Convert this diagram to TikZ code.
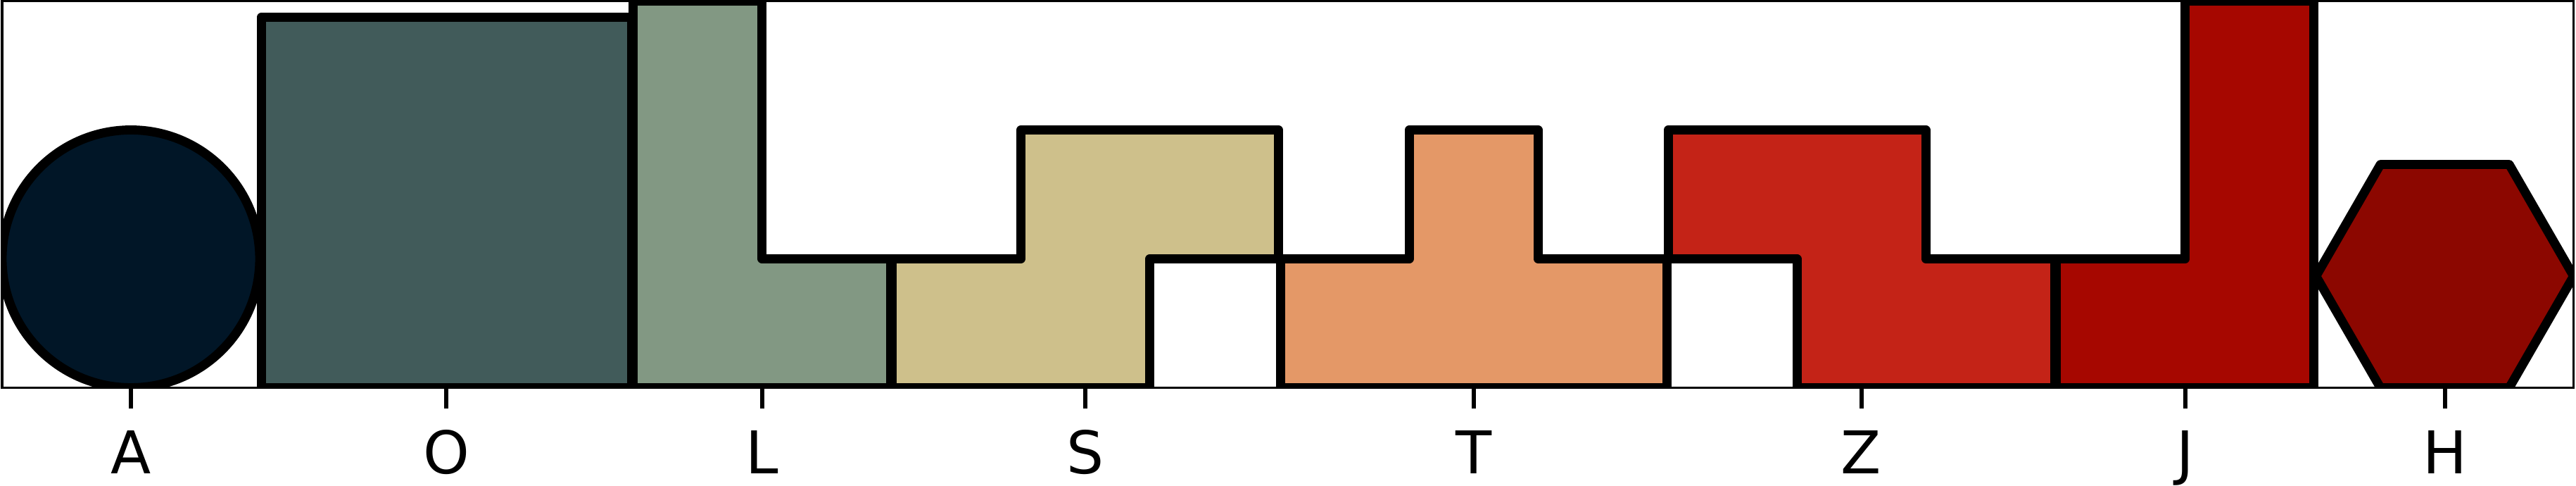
\documentclass[tikz,border=0pt]{standalone}
\usepackage{fontspec}
\setmainfont{DejaVu Sans}
\definecolor{cA}{RGB}{1,22,39}
\definecolor{cO}{RGB}{65,91,90}
\definecolor{cL}{RGB}{130,152,131}
\definecolor{cS}{RGB}{206,192,139}
\definecolor{cT}{RGB}{228,152,103}
\definecolor{cZ}{RGB}{196,35,23}
\definecolor{cJ}{RGB}{166,7,0}
\definecolor{cH}{RGB}{140,7,0}
\begin{document}
\begin{tikzpicture}[x=1cm,y=1cm,
  piece/.style={draw=black, line width=2pt, line join=round},
  frameline/.style={draw=black, line width=0.55pt},
  tickline/.style={draw=black, line width=0.95pt},
  ticklabel/.style={anchor=base, inner sep=0pt, font=\fontsize{13}{15}\selectfont}]
\useasboundingbox (-0.0164,-0.7623) rectangle (19.9836,3.0082);
\begin{scope}
  \clip (0,0) rectangle (19.965,3);
  % A
  \path[piece, fill=cA] (1,1) circle (1);
  % O
  \path[piece, fill=cO] (2.0125,0) rectangle (4.8875,2.875);
  % L
  \path[piece, fill=cL] (4.9,0) -- (6.9,0) -- (6.9,1) -- (5.9,1) -- (5.9,3) -- (4.9,3) -- cycle;
  % S
  \path[piece, fill=cS] (6.91,0) -- (8.91,0) -- (8.91,1) -- (9.91,1) -- (9.91,2) -- (7.91,2) -- (7.91,1) -- (6.91,1) -- cycle;
  % T
  \path[piece, fill=cT] (9.925,0) -- (12.925,0) -- (12.925,1) -- (11.925,1) -- (11.925,2) -- (10.925,2) -- (10.925,1) -- (9.925,1) -- cycle;
  % Z
  \path[piece, fill=cZ] (12.935,1) -- (12.935,2) -- (14.935,2) -- (14.935,1) -- (15.935,1) -- (15.935,0) -- (13.935,0) -- (13.935,1) -- cycle;
  % J
  \path[piece, fill=cJ] (15.95,0) -- (17.95,0) -- (17.95,3) -- (16.95,3) -- (16.95,1) -- (15.95,1) -- cycle;
  % H
  \path[piece, fill=cH] (19.965,0.866) -- (19.465,1.732) -- (18.465,1.732) -- (17.965,0.866) -- (18.465,0) -- (19.465,0) -- cycle;
\end{scope}
\draw[frameline] (0,0) rectangle (19.965,3);
\foreach \nm/\xx in {A/1, O/3.45, L/5.9, S/8.41, T/11.425, Z/14.435, J/16.95, H/18.965}{
  \coordinate (t\nm) at (\xx,0);
  \coordinate (e\nm) at (\xx,-0.161);
  \draw[tickline] (t\nm) -- (e\nm);
  \node[ticklabel] (l\nm) at (\xx,-0.668) {\nm};
}
\end{tikzpicture}
\end{document}
